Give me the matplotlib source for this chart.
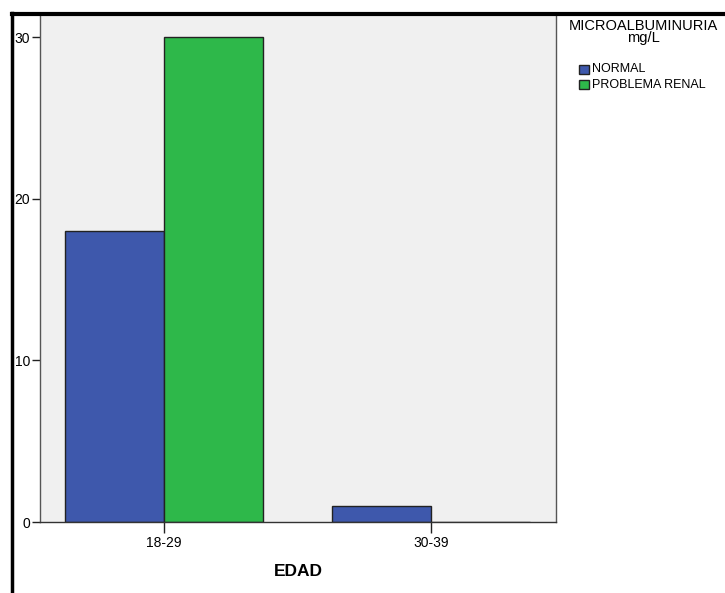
import matplotlib.pyplot as plt
import numpy as np
from matplotlib.patches import Rectangle
from matplotlib.lines import Line2D

categories = ['18-29', '30-39']
normal = [18, 1]
problema_renal = [30, 0]
series_names = ['NORMAL', 'PROBLEMA RENAL']
legend_title = 'MICROALBUMINURIA\nmg/L'
yticks = [0, 10, 20, 30]

colors = ['#3e58ac', '#2eb84a']

plt.rcParams['font.family'] = ['Liberation Sans', 'DejaVu Sans']

W, H = 725, 593
fig = plt.figure(figsize=(W / 100, H / 100), dpi=100)
ax = fig.add_axes([40 / W, 1 - 522 / H, (556 - 40) / W, (522 - 16) / H])
ax.set_facecolor('#f0f0f0')

x = np.arange(len(categories))
width = 0.371
ax.bar(x - width / 2, normal, width, color=colors[0], edgecolor='#222222', linewidth=1)
ax.bar(x + width / 2, problema_renal, width, color=colors[1], edgecolor='#222222', linewidth=1)

ax.set_xlim(-0.464, 1.468)
ax.set_ylim(0, 31.3)
ax.set_xticks(x)
ax.set_xticklabels(categories, fontsize=10)
ax.set_yticks(yticks)
ax.set_yticklabels([str(v) for v in yticks], fontsize=10)
ax.tick_params(axis='x', length=8, width=1, color='#222222', pad=2)
ax.tick_params(axis='y', length=6, width=1, color='#222222', pad=1)
for s in ax.spines.values():
    s.set_color('#555555')
    s.set_linewidth(1)
ax.spines['top'].set_visible(False)
ax.spines['bottom'].set_color('#333333')

fig.text(298 / W, 1 - 572 / H, 'EDAD', fontsize=12.5, fontweight='bold',
         ha='center', va='center')

# figure frame (left and top)
fig.add_artist(Line2D([11.5 / W, 11.5 / W], [0, 1 - 13 / H], color='black',
                      linewidth=2.5, transform=fig.transFigure))
fig.add_artist(Line2D([11.5 / W, 1], [1 - 14 / H, 1 - 14 / H], color='black',
                      linewidth=3, transform=fig.transFigure))

# legend
fig.text(643 / W, 1 - 32 / H, legend_title, fontsize=10.5, ha='center',
         va='center', linespacing=0.9)
for i, name in enumerate(series_names):
    yc = 69.5 + i * 15
    fig.add_artist(Rectangle((579 / W, 1 - (yc + 4.5) / H), 10 / W, 9 / H,
                             facecolor=colors[i], edgecolor='#222222',
                             linewidth=1, transform=fig.transFigure))
    fig.text(592 / W, 1 - yc / H, name, fontsize=9, ha='left', va='center')

fig.savefig('out.png', dpi=100)
